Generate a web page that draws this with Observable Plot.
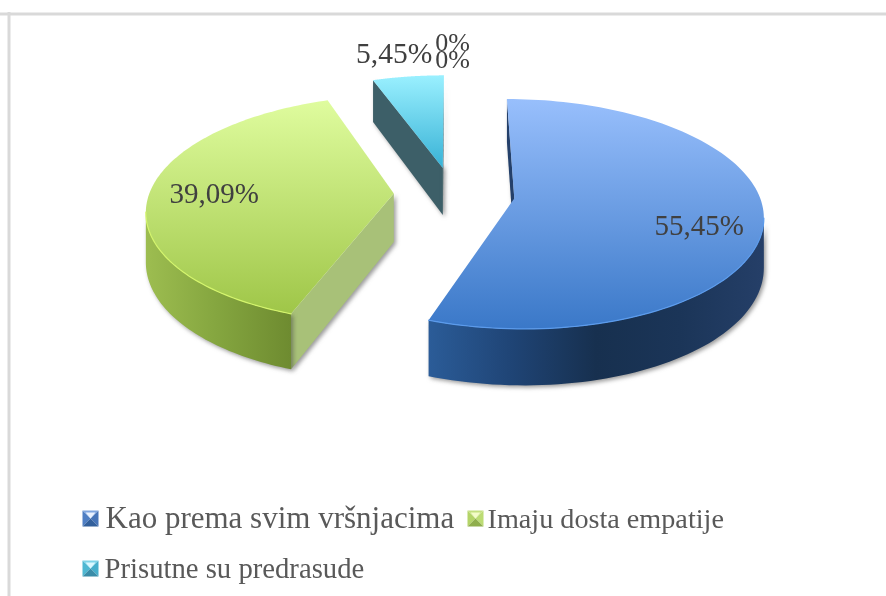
<!DOCTYPE html>
<html>
<head>
<meta charset="utf-8">
<style>html,body{margin:0;padding:0;background:#fff}svg{display:block}</style>
<script src="https://cdn.jsdelivr.net/npm/d3@7"></script>
<script src="https://cdn.jsdelivr.net/npm/@observablehq/plot@0.6"></script>
</head>
<body>
<div id="chart"></div>
<script>
// ---- data ----
const categories = ["Kao prema svim vršnjacima", "Imaju dosta empatije", "Prisutne su predrasude", "", ""];
const values = [55.45, 39.09, 5.45, 0, 0];

// ---- look ----
const topGradients = [["#98bffc", "#3a78c8"], ["#dffc9e", "#9fc648"], ["#9af0ff", "#38b2d6"]];
const outerGradients = [["#2b5c98", "#1f4475", "#17304f", "#1b3558", "#253f68"], ["#9dbd50", "#84a53f", "#6e8b30"], ["#3d5f68", "#3d5f68"]];
const cutColors = ["#24406a", "#a8c178", "#3d5f68"];
const rimColors = ["#5b9bec", "#d4f56c", "#9af0ff"];
// icon faces: top, left, right, bottom, inner highlight
const iconColors = [
  ["#7fa6e0", "#4f7fc4", "#4674b8", "#33609c", "#eaf2ff"],
  ["#c4e080", "#b4d468", "#bcdc74", "#8fae4c", "#f4fcc8"],
  ["#7fd4e8", "#4fb8d2", "#46aecb", "#3a8ca8", "#dcf8ff"]
];

// ---- perspective model of the pie ----
const P = {x0: 452, y0: 193, fx: 244.5, fy: 111.5, k: 0.135, explode: [0.255, 0.24, 0.24], depth: 48.5};
const total = d3.sum(values);
let acc = 0;
const slices = values.map((v, i) => {
  const a0 = acc / total * 2 * Math.PI; acc += v;
  const a1 = acc / total * 2 * Math.PI;
  return {i, v, a0, a1, mid: (a0 + a1) / 2};
});
const project = (X, Y, low = false) => {
  const w = 1 + P.k * Y;
  return [P.x0 + P.fx * X / w, P.y0 - P.fy * Y / w + (low ? P.depth / w : 0)];
};
const centre = s => {
  const e = P.explode[s.i] ?? 0;
  return [e * Math.sin(s.mid), e * Math.cos(s.mid)];
};
const rimPoint = (s, a, r = 1, low = false) => {
  const [ox, oy] = centre(s);
  return project(ox + r * Math.sin(a), oy + r * Math.cos(a), low);
};
const arc = (s, low = false) => d3.range(0, 121).map(j => rimPoint(s, s.a0 + (s.a1 - s.a0) * j / 120, 1, low));

const drawn = slices.filter(s => s.v > 0);
const poly = (pts, fill, extra = {}) => Plot.line(pts, {x: d => d[0], y: d => d[1], fill, stroke: "none", curve: "linear", ...extra});
const shadow = "drop-shadow(2px 2px 2px rgba(70,70,70,0.55))";

const marks = [
  Plot.ruleY([13.5], {stroke: "#d9d9d9", strokeWidth: 3}),
  Plot.ruleX([8.5], {y1: 12, y2: 596, stroke: "#d9d9d9", strokeWidth: 3})
];

// walls and top of each slice, back to front
for (const s of [drawn[2], drawn[1], drawn[0]]) {
  const top = arc(s), low = arc(s, true);
  const apexT = project(...centre(s)), apexB = project(...centre(s), true);
  const a = top[0], b = top[top.length - 1];
  const walls = [];
  // a cut face is visible when, walking clockwise round the top, it runs leftward
  if (a[0] < apexT[0]) walls.push(poly([apexT, a, low[0], apexB], cutColors[s.i], {imageFilter: shadow}));
  if (apexT[0] < b[0]) walls.push(poly([b, apexT, apexB, low[low.length - 1]], cutColors[s.i], {imageFilter: shadow}));
  // curved wall: only the part of the rim that runs leftward
  const idx = d3.range(top.length - 1).filter(j => top[j + 1][0] < top[j][0]);
  if (idx.length && s.i < 2) {
    const i0 = idx[0], i1 = idx[idx.length - 1] + 1;
    const upper = top.slice(i0, i1 + 1), lower = low.slice(i0, i1 + 1).reverse();
    walls.push(poly(upper.concat(lower), `url(#outer${s.i})`, {imageFilter: shadow}));
    marks.push(...walls);
    marks.push(poly([apexT, ...top], `url(#top${s.i})`));
    marks.push(Plot.line(upper, {x: d => d[0], y: d => d[1], stroke: rimColors[s.i], strokeWidth: 1.2}));
  } else {
    marks.push(...walls);
    marks.push(poly([apexT, ...top], `url(#top${s.i})`));
  }
}

// data labels, placed along each slice's bisector
const labelRadius = [0.745, 0.735, 1.27, 1.6, 1.41];
const labelDx = [0, 0, -6, 0, 0];
const labelDy = [13, 0, -2, -4, -2];
const labelSize = [29, 29, 29.5, 26, 26];
const fmt = v => v === 0 ? "0%" : v.toFixed(2).replace(".", ",") + "%";
slices.forEach((s, i) => {
  const zero = s.v === 0;
  const [X, Y] = zero ? [0, labelRadius[i]] : [centre(s)[0] + labelRadius[i] * Math.sin(s.mid), centre(s)[1] + labelRadius[i] * Math.cos(s.mid)];
  const [x, y] = project(X, Y);
  marks.push(Plot.text([fmt(s.v)], {
    x: x + labelDx[i], y: y + labelDy[i], text: d => d, fontFamily: "Liberation Serif", fontSize: labelSize[i], fill: "#404040",
    imageFilter: "blur(0.35px)"
  }));
});

// legend
const legendRows = [
  {i: 0, iconX: 90, y: 518, textX: 105, size: 31},
  {i: 1, iconX: 475, y: 518, textX: 487, size: 28.2},
  {i: 2, iconX: 90, y: 568, textX: 104, size: 28.7}
];
const half = 8;
for (const r of legendRows) {
  const c = [r.iconX, r.y];
  const tl = [c[0] - half, c[1] - half], tr = [c[0] + half, c[1] - half], bl = [c[0] - half, c[1] + half], br = [c[0] + half, c[1] + half];
  [[tl, tr], [bl, tl], [tr, br], [br, bl]].forEach((edge, j) => {
    marks.push(poly([edge[0], edge[1], c], iconColors[r.i][j]));
  });
  marks.push(poly([[c[0] - 5, c[1] - 6], [c[0] + 5, c[1] - 6], c], iconColors[r.i][4]));
  marks.push(Plot.text([categories[r.i]], {
    x: r.textX, y: r.y, text: d => d, textAnchor: "start", fontFamily: "Liberation Serif",
    fontSize: r.size, fill: "#595959", imageFilter: "blur(0.35px)"
  }));
}

// gradients
const defs = () => {
  const ns = "http://www.w3.org/2000/svg";
  const el = document.createElementNS(ns, "defs");
  const grad = (id, stops, horizontal) => {
    const g = document.createElementNS(ns, "linearGradient");
    g.setAttribute("id", id);
    g.setAttribute("x1", 0); g.setAttribute("y1", 0);
    g.setAttribute("x2", horizontal ? 1 : 0); g.setAttribute("y2", horizontal ? 0 : 1);
    stops.forEach((c, i) => {
      const st = document.createElementNS(ns, "stop");
      st.setAttribute("offset", i / (stops.length - 1));
      st.setAttribute("stop-color", c);
      g.appendChild(st);
    });
    el.appendChild(g);
  };
  topGradients.forEach((c, i) => grad(`top${i}`, c, false));
  outerGradients.forEach((c, i) => grad(`outer${i}`, c, true));
  return el;
};

const plot = Plot.plot({
  width: 886, height: 596, margin: 0,
  x: {domain: [0, 886], range: [0, 886], axis: null},
  y: {domain: [0, 596], range: [0, 596], axis: null},
  marks: [defs, ...marks]
});
document.getElementById("chart").appendChild(plot);
</script>
</body>
</html>
